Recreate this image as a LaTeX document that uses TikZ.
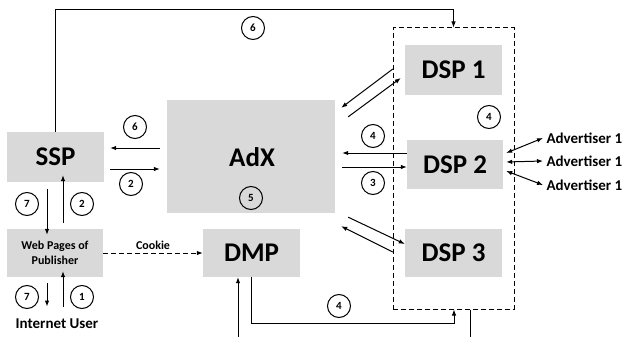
\documentclass[tikz,border=0pt]{standalone}
\usepackage{fontspec}
\setmainfont{Carlito}
\usetikzlibrary{arrows.meta,calc}
\definecolor{boxgray}{HTML}{D9D9D9}

\begin{document}
\begin{tikzpicture}[x=1pt,y=-1pt,
    box/.style = {fill=boxgray, inner sep=0pt, font=\bfseries\fontsize{27}{29}\selectfont},
    smallbox/.style = {box, align=center, font=\bfseries\fontsize{12}{15}\selectfont},
    numcirc/.style = {draw, circle, line width=1pt, minimum size=23pt, inner sep=0pt, font=\bfseries\fontsize{11}{11}\selectfont},
    arr/.style = {line width=1pt, -{Latex[length=6pt,width=4.5pt]}},
    dblarr/.style = {line width=1pt, {Latex[length=6pt,width=4.5pt]}-{Latex[length=6pt,width=4.5pt]}},
    dash5/.style = {dash pattern=on 5pt off 3pt},
    lbl/.style = {font=\bfseries\fontsize{15}{15}\selectfont}]
      \useasboundingbox (0,0) rectangle (624,337);

      % boxes
      \node[box, minimum width=97pt, minimum height=50pt] (SSP) at (55.5,157) {SSP};
      \node[box, minimum width=168pt, minimum height=113pt] (AdX) at (251,156.5) {};
      \node[font=\bfseries\fontsize{27}{29}\selectfont] (AdXtxt) at (252,157) {AdX};
      \node[smallbox, minimum width=96pt, minimum height=48pt] (Web) at (55,253) {Web Pages of\\Publisher};
      \node[box, minimum width=97pt, minimum height=48pt] (DMP) at (251.5,253) {DMP};
      \node[draw, dash5, line width=1pt, minimum width=121pt, minimum height=281pt] (DSPs) at (453.5,168.5) {};
      \node[box, minimum width=97pt, minimum height=50pt] (DSP1) at (453.5,70) {DSP 1};
      \node[box, minimum width=96pt, minimum height=49pt] (DSP2) at (455,164.5) {DSP 2};
      \node[box, minimum width=97pt, minimum height=48pt] (DSP3) at (453.5,253) {DSP 3};

      % labels
      \node[lbl, anchor=west] (adv1) at (543,138) {Advertiser 1};
      \node[lbl, anchor=west] (adv2) at (543,161) {Advertiser 1};
      \node[lbl, anchor=west] (adv3) at (543,185) {Advertiser 1};
      \node[lbl] (user) at (57,324) {Internet User};
      \node[font=\bfseries\fontsize{12}{12}\selectfont] (cookie) at (153,245) {Cookie};

      % step numbers
      \node[numcirc] (n6a) at (253,28) {6};
      \node[numcirc] (n6b) at (135,127) {6};
      \node[numcirc] (n2a) at (131,184) {2};
      \node[numcirc] (n5) at (251,198) {5};
      \node[numcirc] (n4a) at (373,136) {4};
      \node[numcirc] (n3) at (373,183) {3};
      \node[numcirc] (n4b) at (489,117) {4};
      \node[numcirc] (n7a) at (27,204) {7};
      \node[numcirc] (n2b) at (82,204) {2};
      \node[numcirc] (n7b) at (27,297) {7};
      \node[numcirc] (n1) at (82,297) {1};
      \node[numcirc] (n4c) at (339,306) {4};

      % free ends
      \coordinate (dmpin) at (238,337);
      \coordinate (dspout) at (470,337);

      % connectors
      \draw[arr] (SSP.north) -- ++(0,-122) -| (DSPs.north);
      \draw[arr] ([xshift=-7pt,yshift=8.5pt]AdX.west) -- ([xshift=6pt,yshift=9pt]SSP.east);
      \draw[arr] ([xshift=6pt,yshift=-12pt]SSP.east) -- ([xshift=-7pt,yshift=-12.5pt]AdX.west);
      \draw[arr] ([yshift=11.5pt]DSP2.west) -- ([xshift=7pt,yshift=3.5pt]AdX.east);
      \draw[arr] ([xshift=7pt,yshift=-10.5pt]AdX.east) -- ([yshift=-2.5pt]DSP2.west);
      \draw[arr] ([xshift=-12pt,yshift=1pt]DSP1.west) -- ([xshift=6pt,yshift=-8pt]AdX.north east);
      \draw[arr] ([xshift=13pt,yshift=-17pt]AdX.north east) -- ([xshift=-4pt,yshift=-8pt]DSP1.west);
      \draw[arr] ([xshift=13pt,yshift=-4pt]AdX.south east) -- ([yshift=9pt]DSP3.west);
      \draw[arr] ([xshift=-12pt,yshift=1pt]DSP3.west) -- ([xshift=6pt,yshift=-13pt]AdX.south east);
      \draw[arr] ([xshift=-8.5pt,yshift=-7pt]SSP.south) -- ([xshift=-8pt,yshift=-6pt]Web.north);
      \draw[arr] ([xshift=8pt,yshift=6pt]Web.north) -- ([xshift=7.5pt,yshift=7pt]SSP.south);
      \draw[arr] ([xshift=-8pt,yshift=-6pt]Web.south) -- ([xshift=-10pt,yshift=9pt]user.north);
      \draw[arr] ([xshift=6pt,yshift=9pt]user.north) -- ([xshift=8pt,yshift=6pt]Web.south);
      \draw[arr, dash5] (Web.east) -- (DMP.west);
      \draw[arr] (DMP.south) -- ++(0,46) -| ([xshift=0.5pt]DSPs.south);
      \draw[arr] (dmpin) -- (dmpin |- DMP.south);
      \draw[line width=1pt] ([xshift=16.5pt]DSPs.south) -- (dspout);
      \draw[dblarr] ([xshift=3pt,yshift=11.5pt]DSP2.east) -- (adv1.west);
      \draw[dblarr] ([xshift=3pt,yshift=2.5pt]DSP2.east) -- (adv2.west);
      \draw[dblarr] ([xshift=3pt,yshift=-6.5pt]DSP2.east) -- (adv3.west);
    \end{tikzpicture}
\end{document}
